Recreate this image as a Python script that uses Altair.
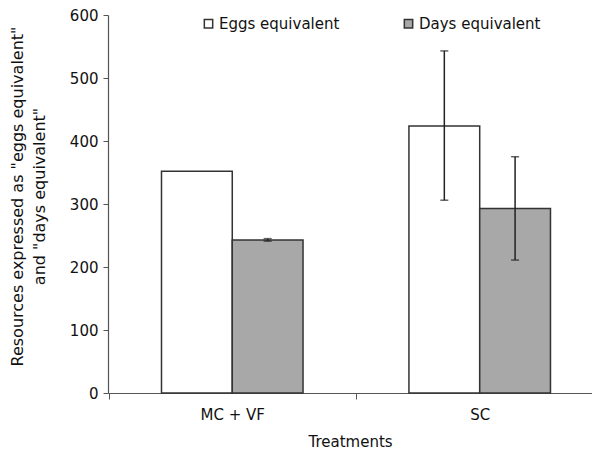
import altair as alt
import pandas as pd

treatments = ["MC + VF", "SC"]
series = ["Eggs equivalent", "Days equivalent"]
eggs = [352, 424]
days = [243, 293]
eggs_lo = [None, 306]
eggs_hi = [None, 543]
days_lo = [241, 211]
days_hi = [245, 375]

rows = []
for i, t in enumerate(treatments):
    rows.append({"treatment": t, "series": series[0], "value": eggs[i], "lo": eggs_lo[i], "hi": eggs_hi[i]})
    rows.append({"treatment": t, "series": series[1], "value": days[i], "lo": days_lo[i], "hi": days_hi[i]})
df = pd.DataFrame(rows)
err = df.dropna(subset=["lo", "hi"])

FONT = "DejaVu Sans"
HALF_STEP = 123.7

x_enc = alt.X("treatment:N", sort=treatments,
              scale=alt.Scale(paddingInner=0.428, paddingOuter=0.192, align=0.563),
              axis=alt.Axis(title="Treatments", labelAngle=0,
                            tickOffset=-HALF_STEP, labelOffset=HALF_STEP,
                            labelFontSize=15, titleFontSize=15, titlePadding=12,
                            labelPadding=8, tickSize=6))
xo = alt.XOffset("series:N", sort=series, scale=alt.Scale(paddingInner=0, paddingOuter=0))

bars = alt.Chart(df).mark_bar(stroke="#333333", strokeWidth=1.5).encode(
    x=x_enc,
    xOffset=xo,
    y=alt.Y("value:Q", scale=alt.Scale(domain=[0, 600], nice=False),
            axis=alt.Axis(values=[0, 100, 200, 300, 400, 500, 600],
                          title=['Resources expressed as  "eggs equivalent"', 'and  "days equivalent"'],
                          titleAngle=-90, titleBaseline="top", titleAlign="center",
                          titleX=-99, titleY=181, titleLineHeight=22,
                          labelFontSize=15, titleFontSize=16, tickSize=5, labelPadding=5)),
    color=alt.Color("series:N", sort=series,
                    scale=alt.Scale(domain=series, range=["#ffffff", "#a8a8a8"]),
                    legend=alt.Legend(title=None, orient="none", direction="horizontal",
                                      legendX=93, legendY=1, columns=2, columnPadding=61,
                                      symbolType="square", symbolSize=70,
                                      symbolStrokeColor="#333333", symbolStrokeWidth=1.5,
                                      labelFontSize=15, labelOffset=3, symbolOpacity=1))
)

rules = alt.Chart(err).mark_rule(color="#222222", strokeWidth=1.5).encode(
    x=alt.X("treatment:N", sort=treatments),
    xOffset=xo,
    y="lo:Q",
    y2="hi:Q",
)
caps_lo = alt.Chart(err).mark_tick(color="#222222", thickness=1.5, size=8, orient="horizontal").encode(
    x=alt.X("treatment:N", sort=treatments),
    xOffset=xo,
    y="lo:Q",
)
caps_hi = alt.Chart(err).mark_tick(color="#222222", thickness=1.5, size=8, orient="horizontal").encode(
    x=alt.X("treatment:N", sort=treatments),
    xOffset=xo,
    y="hi:Q",
)

chart = alt.layer(bars, rules, caps_lo, caps_hi).properties(
    width=484, height=378,
    autosize=alt.AutoSizeParams(type="none"),
    padding={"left": 100, "top": 7, "right": 0, "bottom": 62},
).configure_view(stroke=None).configure_axis(
    grid=False, domainColor="#555555", tickColor="#555555", domainWidth=1.2,
    labelColor="#111111", titleColor="#111111", labelFont=FONT, titleFont=FONT,
    titleFontWeight="normal",
).configure_legend(labelFont=FONT, labelColor="#111111")

chart.save("out.html", embed_options={"renderer": "svg", "actions": False})
